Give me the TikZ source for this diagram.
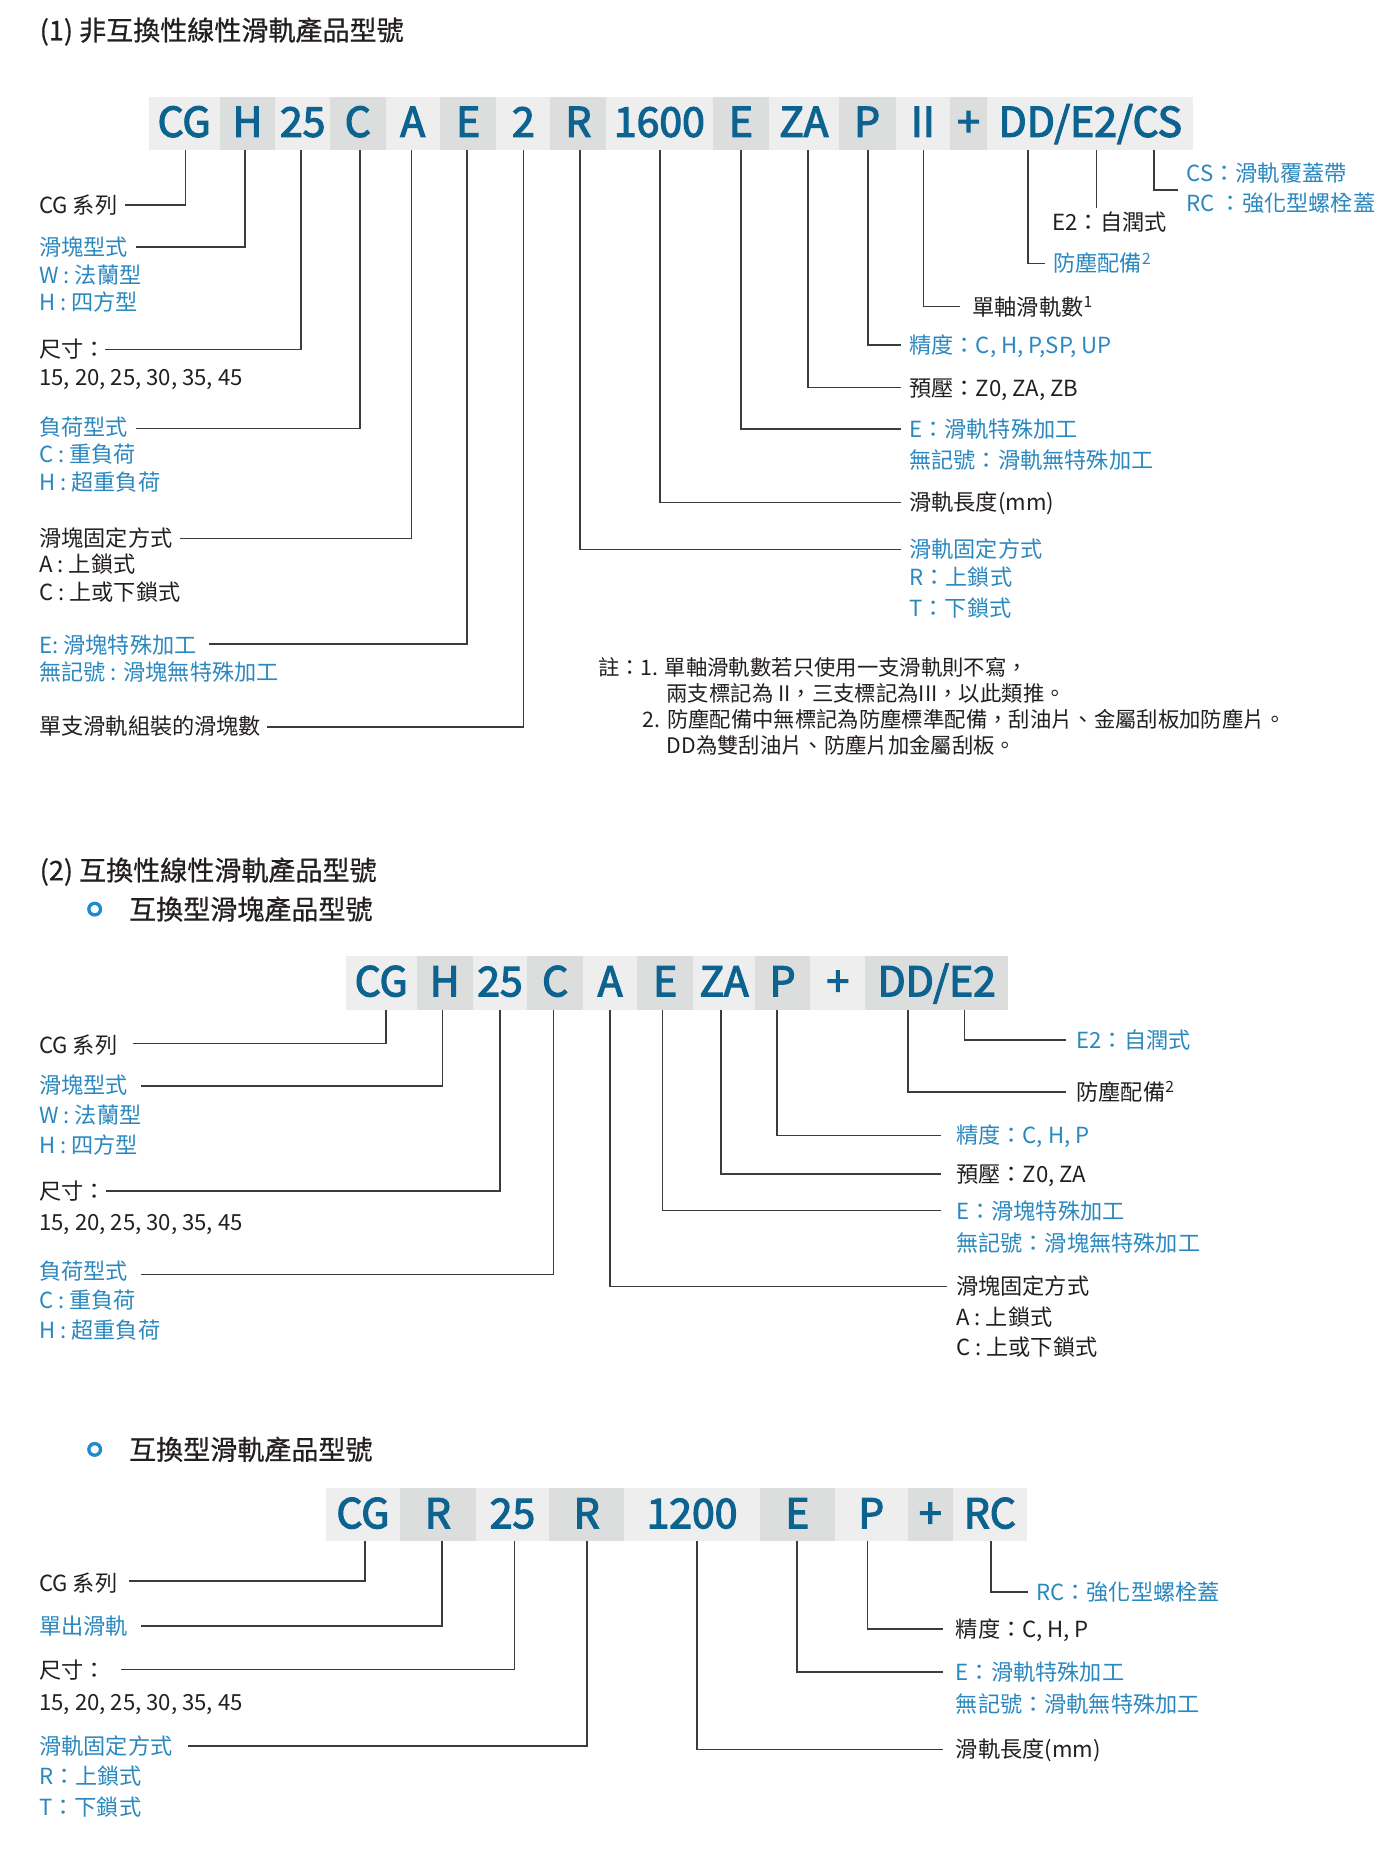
\documentclass[tikz,border=0pt]{standalone}
\usepackage{fontspec}
\setmainfont{Noto Sans CJK TC}
\newfontfamily\codefont{Noto Sans CJK TC}[FakeBold=3]
\newfontfamily\ttlfont{Noto Sans CJK TC}[FakeBold=0.6]
\definecolor{codeblue}{HTML}{0D6390}
\definecolor{lblblue}{HTML}{2A88BF}
\definecolor{txtblack}{HTML}{231F20}
\definecolor{boxlight}{HTML}{EEEEEE}
\definecolor{boxdark}{HTML}{DCDDDD}
\definecolor{linegray}{HTML}{3C3C3C}
\definecolor{bulletblue}{HTML}{1C8CD2}
\begin{document}
\begin{tikzpicture}[x=1pt,y=-1pt,
  conn/.style={draw=linegray, line width=1.3pt},
  cbox/.style={inner sep=0pt, outer sep=0pt, anchor=north west, minimum height=45pt,
    text height=22.5pt, text depth=0pt, font=\codefont\fontsize{34.5}{34}\selectfont, text=codeblue},
  cl/.style={cbox, fill=boxlight},
  cd/.style={cbox, fill=boxdark},
  lbl/.style={inner sep=0pt, outer sep=0pt, anchor=west, text height=16.5pt, text depth=2.2pt,
    font=\fontsize{18.7}{22}\selectfont},
  bk/.style={lbl, text=txtblack},
  bl/.style={lbl, text=lblblue},
  note/.style={lbl, text=txtblack, font=\fontsize{18}{22}\selectfont},
  ttl/.style={inner sep=0pt, outer sep=0pt, anchor=west, text height=20pt, text depth=2.7pt,
    font=\ttlfont\fontsize{22.8}{26}\selectfont, text=txtblack},
  bul/.style={circle, draw=bulletblue, line width=2.8pt, minimum size=9.8pt, inner sep=0pt}
]
\fill[white] (0,0) rectangle (1170,1563.6);
\useasboundingbox (0,0) rectangle (1170,1563.6);

% ================= Section 1 =================
\node[ttl] (t1) at (33.5,25.3) {(1) 非互換性線性滑軌產品型號};

\node[cl, minimum width=59.8pt] (b1cg)  at (125.3,81.5) {CG};
\node[cd, minimum width=47.1pt] (b1h)   at (185.1,81.5) {H};
\node[cl, minimum width=45.9pt] (b1s)   at (232.2,81.5) {25};
\node[cd, minimum width=47.0pt] (b1c)   at (278.1,81.5) {C};
\node[cl, minimum width=45.6pt] (b1a)   at (325.1,81.5) {A};
\node[cd, minimum width=47.7pt] (b1e)   at (370.7,81.5) {E};
\node[cl, minimum width=45.6pt] (b1two) at (418.4,81.5) {2};
\node[cd, minimum width=47.0pt] (b1r)   at (464.0,81.5) {R};
\node[cl, minimum width=89.6pt] (b1len) at (511.0,81.5) {1600};
\node[cd, minimum width=47.7pt] (b1ee)  at (600.6,81.5) {E};
\node[cl, minimum width=58.5pt] (b1za)  at (648.3,81.5) {ZA};
\node[cd, minimum width=48.3pt] (b1p)   at (706.8,81.5) {P};
\node[cl, minimum width=45.7pt] (b1ii)  at (755.1,81.5) {II};
\node[cd, minimum width=31.2pt] (b1plus) at (800.8,81.5) {+};
\node[cl, minimum width=174pt]  (b1last) at (832,81.5) {DD/E2/CS};

% left labels
\node[bk] (l1cg) at (33.1,172.8) {CG 系列};
\node[bl] (l1h)  at (33.1,208) {滑塊型式};
\node[bl] (l1h2) at (33.1,231.8) {W : 法蘭型};
\node[bl] (l1h3) at (33.1,254.3) {H : 四方型};
\node[bk] (l1s)  at (33.1,294.5) {尺寸：};
\node[bk] (l1s2) at (33.1,317.5) {15, 20, 25, 30, 35, 45};
\node[bl] (l1c)  at (33.1,360) {負荷型式};
\node[bl] (l1c2) at (33.1,382.7) {C : 重負荷};
\node[bl] (l1c3) at (33.1,406) {H : 超重負荷};
\node[bk] (l1a)  at (33.1,453.3) {滑塊固定方式};
\node[bk] (l1a2) at (33.1,475.7) {A : 上鎖式};
\node[bk] (l1a3) at (33.1,498.8) {C : 上或下鎖式};
\node[bl] (l1e)  at (33.1,543.3) {E: 滑塊特殊加工};
\node[bl] (l1e2) at (33.1,566.2) {無記號 : 滑塊無特殊加工};
\node[bk] (l1two) at (33.1,611.8) {單支滑軌組裝的滑塊數};

\coordinate (c1cg) at (156.2,172.8);  \coordinate (e1cg) at (105.4,172.8);
\coordinate (c1h) at (206.6,208);     \coordinate (e1h) at (114.8,208);
\coordinate (c1s) at (253.6,294.5);   \coordinate (e1s) at (88.4,294.5);
\coordinate (c1c) at (303.3,361);     \coordinate (e1c) at (114.8,361);
\coordinate (c1a) at (347,453.8);     \coordinate (e1a) at (151.7,453.8);
\coordinate (c1e) at (393.6,542.9);   \coordinate (e1e) at (176.1,542.9);
\coordinate (c1two) at (441.4,612.6); \coordinate (e1two) at (224.7,612.6);

\draw[conn] (b1cg.south -| c1cg) -- (c1cg) -- (e1cg);
\draw[conn] (b1h.south -| c1h) -- (c1h) -- (e1h);
\draw[conn] (b1s.south -| c1s) -- (c1s) -- (e1s);
\draw[conn] (b1c.south -| c1c) -- (c1c) -- (e1c);
\draw[conn] (b1a.south -| c1a) -- (c1a) -- (e1a);
\draw[conn] (b1e.south -| c1e) -- (c1e) -- (e1e);
\draw[conn] (b1two.south -| c1two) -- (c1two) -- (e1two);

% right labels
\node[bl] (r1cs)  at (1000.3,146) {CS：滑軌覆蓋帶};
\node[bl] (r1rc)  at (1000.3,171.4) {RC ：強化型螺栓蓋};
\node[bk] (r1e2)  at (887.2,186.8) {E2：自潤式};
\node[bl] (r1dd)  at (887.8,222) {防塵配備\textsuperscript{2}};
\node[bk] (r1ii)  at (819.8,258.5) {單軸滑軌數\textsuperscript{1}};
\node[bl] (r1p)   at (766.5,290.8) {精度：C, H, P,SP, UP};
\node[bk] (r1za)  at (766.5,326.8) {預壓：Z0, ZA, ZB};
\node[bl] (r1ee)  at (766.5,361.6) {E：滑軌特殊加工};
\node[bl] (r1ee2) at (766.5,387.8) {無記號：滑軌無特殊加工};
\node[bk] (r1len) at (766.5,423.4) {滑軌長度(mm)};
\node[bl] (r1r)   at (766.5,463.1) {滑軌固定方式};
\node[bl] (r1r2)  at (766.5,486.7) {R：上鎖式};
\node[bl] (r1r3)  at (766.5,512.2) {T：下鎖式};

\coordinate (c1cs) at (972.9,160.2);  \coordinate (e1cs) at (993,160.2);
\coordinate (c1e2) at (924.1,175.6);
\coordinate (c1dd) at (866.6,222);
\coordinate (c1ii) at (778.4,258.5);
\coordinate (c1p) at (731.5,290.8);
\coordinate (c1za) at (681,326.8);
\coordinate (c1ee) at (624.6,361.6);
\coordinate (c1len) at (556.2,423.4);
\coordinate (c1r) at (488.8,463.1);

\draw[conn] (b1last.south -| c1cs) -- (c1cs) -- (e1cs);
\draw[conn] (b1last.south -| c1e2) -- (c1e2);
\draw[conn] (b1last.south -| c1dd) -- (c1dd) -- ([xshift=-7.1pt]r1dd.west);
\draw[conn] (b1ii.south -| c1ii) -- (c1ii) -- ([xshift=-10.6pt]r1ii.west);
\draw[conn] (b1p.south -| c1p) -- (c1p) -- ([xshift=-6.8pt]r1p.west);
\draw[conn] (b1za.south -| c1za) -- (c1za) -- ([xshift=-6.8pt]r1za.west);
\draw[conn] (b1ee.south -| c1ee) -- (c1ee) -- ([xshift=-6.8pt]r1ee.west);
\draw[conn] (b1len.south -| c1len) -- (c1len) -- ([xshift=-6.8pt]r1len.west);
\draw[conn] (b1r.south -| c1r) -- (c1r) -- ([xshift=-6.8pt]r1r.west);

% notes
\node[note] (n1) at (504.1,562.5) {註：1. 單軸滑軌數若只使用一支滑軌則不寫，};
\node[note] (n2) at (561.9,584.4) {兩支標記為 II，三支標記為III，以此類推。};
\node[note] (n3) at (541.9,606.1) {2. 防塵配備中無標記為防塵標準配備，刮油片、金屬刮板加防塵片。};
\node[note] (n4) at (561.9,628) {DD為雙刮油片、防塵片加金屬刮板。};

% ================= Section 2 =================
\node[ttl] (t2) at (33.5,733.4) {(2) 互換性線性滑軌產品型號};
\node[bul] (bul1) at (79.8,766.3) {};
\node[ttl] (t2a) at (108.8,766.3) {互換型滑塊產品型號};

\node[cl, minimum width=59.5pt] (b2cg)  at (291.6,806) {CG};
\node[cd, minimum width=47.4pt] (b2h)   at (351.1,806) {H};
\node[cl, minimum width=45.9pt] (b2s)   at (398.5,806) {25};
\node[cd, minimum width=47.2pt] (b2c)   at (444.4,806) {C};
\node[cl, minimum width=45.4pt] (b2a)   at (491.6,806) {A};
\node[cd, minimum width=47.3pt] (b2e)   at (537,806) {E};
\node[cl, minimum width=52.0pt] (b2za)  at (584.3,806) {ZA};
\node[cd, minimum width=46.8pt] (b2p)   at (636.3,806) {P};
\node[cl, minimum width=46.3pt] (b2plus) at (683.1,806) {+};
\node[cd, minimum width=120.3pt] (b2last) at (729.4,806) {DD/E2};

\node[bk] (l2cg) at (33.1,880.5) {CG 系列};
\node[bl] (l2h)  at (33.1,914.5) {滑塊型式};
\node[bl] (l2h2) at (33.1,940) {W : 法蘭型};
\node[bl] (l2h3) at (33.1,965.4) {H : 四方型};
\node[bk] (l2s)  at (33.1,1004) {尺寸：};
\node[bk] (l2s2) at (33.1,1030) {15, 20, 25, 30, 35, 45};
\node[bl] (l2c)  at (33.1,1071.5) {負荷型式};
\node[bl] (l2c2) at (33.1,1095.9) {C : 重負荷};
\node[bl] (l2c3) at (33.1,1121) {H : 超重負荷};

\coordinate (c2cg) at (325.5,879.5);  \coordinate (e2cg) at (112.2,879.5);
\coordinate (c2h) at (372.9,915.2);   \coordinate (e2h) at (118.9,915.2);
\coordinate (c2s) at (421.5,1004);    \coordinate (e2s) at (89.2,1004);
\coordinate (c2c) at (466.6,1074.2);  \coordinate (e2c) at (118.9,1074.2);

\draw[conn] (b2cg.south -| c2cg) -- (c2cg) -- (e2cg);
\draw[conn] (b2h.south -| c2h) -- (c2h) -- (e2h);
\draw[conn] (b2s.south -| c2s) -- (c2s) -- (e2s);
\draw[conn] (b2c.south -| c2c) -- (c2c) -- (e2c);

\node[bl] (r2e2)  at (907.4,876.5) {E2：自潤式};
\node[bk] (r2dd)  at (907.4,920.3) {防塵配備\textsuperscript{2}};
\node[bl] (r2p)   at (806,957) {精度：C, H, P};
\node[bk] (r2za)  at (806,989.5) {預壓：Z0, ZA};
\node[bl] (r2e)   at (806,1020.5) {E：滑塊特殊加工};
\node[bl] (r2e2b) at (806,1047.5) {無記號：滑塊無特殊加工};
\node[bk] (r2a)   at (806,1084.2) {滑塊固定方式};
\node[bk] (r2a2)  at (806,1110) {A : 上鎖式};
\node[bk] (r2a3)  at (806,1135.8) {C : 上或下鎖式};

\coordinate (c2e2) at (813,876.5);
\coordinate (c2dd) at (765.2,920.3);
\coordinate (c2p) at (654.9,957);
\coordinate (c2za) at (607.7,989.5);
\coordinate (c2e) at (558.4,1020.5);
\coordinate (c2a) at (514,1084.2);

\draw[conn] (b2last.south -| c2e2) -- (c2e2) -- ([xshift=-8.5pt]r2e2.west);
\draw[conn] (b2last.south -| c2dd) -- (c2dd) -- ([xshift=-8.5pt]r2dd.west);
\draw[conn] (b2p.south -| c2p) -- (c2p) -- ([xshift=-13.1pt]r2p.west);
\draw[conn] (b2za.south -| c2za) -- (c2za) -- ([xshift=-13.1pt]r2za.west);
\draw[conn] (b2e.south -| c2e) -- (c2e) -- ([xshift=-13.1pt]r2e.west);
\draw[conn] (b2a.south -| c2a) -- (c2a) -- ([xshift=-7.4pt]r2a.west);

% ================= Section 3 =================
\node[bul] (bul2) at (79.8,1221.7) {};
\node[ttl] (t3) at (108.8,1221.7) {互換型滑軌產品型號};

\node[cl, minimum width=62.5pt, minimum height=44.5pt] (b3cg)  at (274.7,1254.6) {CG};
\node[cd, minimum width=63.9pt, minimum height=44.5pt] (b3r)   at (337.2,1254.6) {R};
\node[cl, minimum width=61.8pt, minimum height=44.5pt] (b3s)   at (401.1,1254.6) {25};
\node[cd, minimum width=63.2pt, minimum height=44.5pt] (b3r2)  at (462.9,1254.6) {R};
\node[cl, minimum width=114.4pt, minimum height=44.5pt] (b3len) at (526.1,1254.6) {1200};
\node[cd, minimum width=63.1pt, minimum height=44.5pt] (b3e)   at (640.5,1254.6) {E};
\node[cl, minimum width=61.5pt, minimum height=44.5pt] (b3p)   at (703.6,1254.6) {P};
\node[cd, minimum width=38.1pt, minimum height=44.5pt] (b3plus) at (765.1,1254.6) {+};
\node[cl, minimum width=62.3pt, minimum height=44.5pt] (b3rc)  at (803.2,1254.6) {RC};

\node[bk] (l3cg) at (33.1,1334) {CG 系列};
\node[bl] (l3r)  at (33.1,1370.4) {單出滑軌};
\node[bk] (l3s)  at (33.1,1407.5) {尺寸：};
\node[bk] (l3s2) at (33.1,1434.4) {15, 20, 25, 30, 35, 45};
\node[bl] (l3r2) at (33.1,1471.8) {滑軌固定方式};
\node[bl] (l3r3) at (33.1,1497) {R：上鎖式};
\node[bl] (l3r4) at (33.1,1523) {T：下鎖式};

\coordinate (c3cg) at (307.8,1332.5);  \coordinate (e3cg) at (109.1,1332.5);
\coordinate (c3r) at (372.6,1370.4);   \coordinate (e3r) at (118.9,1370.4);
\coordinate (c3s) at (433.5,1407.2);   \coordinate (e3s) at (101.6,1407.2);
\coordinate (c3r2) at (494.8,1471.8);  \coordinate (e3r2) at (158.8,1471.8);

\draw[conn] (b3cg.south -| c3cg) -- (c3cg) -- (e3cg);
\draw[conn] (b3r.south -| c3r) -- (c3r) -- (e3r);
\draw[conn] (b3s.south -| c3s) -- (c3s) -- (e3s);
\draw[conn] (b3r2.south -| c3r2) -- (c3r2) -- (e3r2);

\node[bl] (r3rc)  at (873.5,1341.7) {RC：強化型螺栓蓋};
\node[bk] (r3p)   at (805.7,1373) {精度：C, H, P};
\node[bl] (r3e)   at (805.7,1409.5) {E：滑軌特殊加工};
\node[bl] (r3e2)  at (805.7,1436.7) {無記號：滑軌無特殊加工};
\node[bk] (r3len) at (805.7,1474.6) {滑軌長度(mm)};

\coordinate (c3rc) at (835.4,1341.7);
\coordinate (c3p) at (731.2,1373);
\coordinate (c3e) at (671.8,1409.5);
\coordinate (c3len) at (587.5,1474.6);

\draw[conn] (b3rc.south -| c3rc) -- (c3rc) -- ([xshift=-6.7pt]r3rc.west);
\draw[conn] (b3p.south -| c3p) -- (c3p) -- ([xshift=-10.5pt]r3p.west);
\draw[conn] (b3e.south -| c3e) -- (c3e) -- ([xshift=-10.5pt]r3e.west);
\draw[conn] (b3len.south -| c3len) -- (c3len) -- ([xshift=-10.5pt]r3len.west);
\end{tikzpicture}
\end{document}
